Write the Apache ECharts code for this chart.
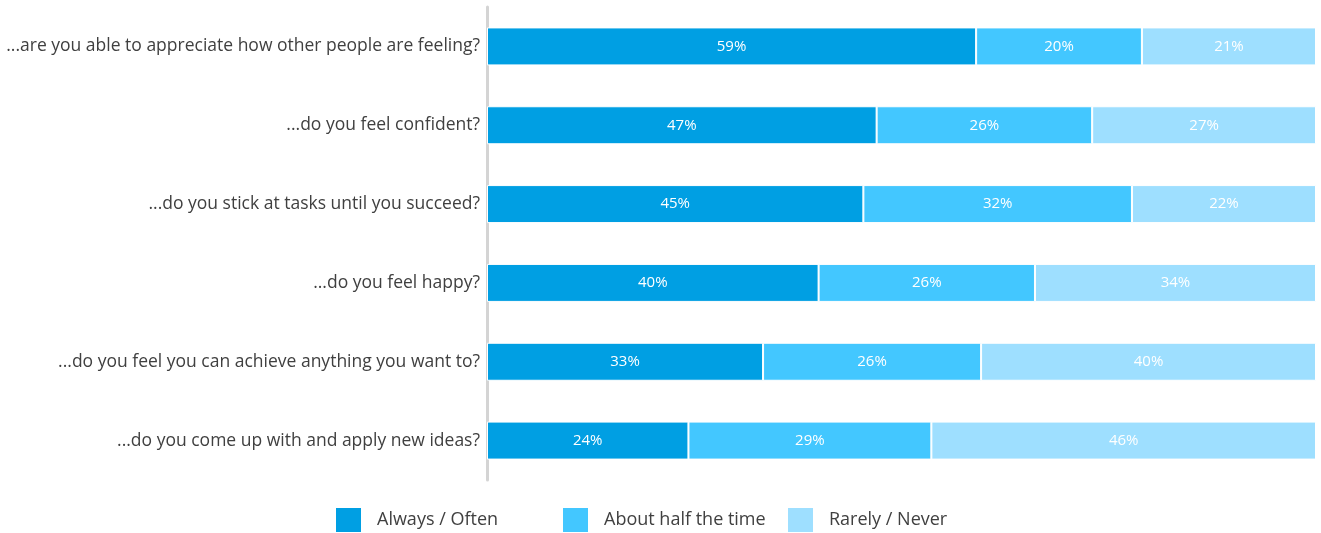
<!DOCTYPE html>
<html>
<head>
<meta charset="utf-8">
<script src="https://cdn.jsdelivr.net/npm/echarts@6/dist/echarts.min.js"></script>
<style>
  html, body { margin: 0; padding: 0; background: #fff; }
  #chart { width: 1321px; height: 533px; }
</style>
</head>
<body>
<div id="chart"></div>
<script>
// questions, top to bottom
const questions = [
  '...are you able to appreciate how other people are feeling?',
  '...do you feel confident?',
  '...do you stick at tasks until you succeed?',
  '...do you feel happy?',
  '...do you feel you can achieve anything you want to?',
  '...do you come up with and apply new ideas?'
]
const seriesNames = ['Always / Often', 'About half the time', 'Rarely / Never']
const alwaysOften = [59, 47, 45.4, 40, 33.3, 24.3]
const halfTime = [20, 26, 32.4, 26.1, 26.3, 29.3]
const rarelyNever = [21, 27, 22.2, 33.9, 40.4, 46.4]
const colors = ['#009FE3', '#43C7FF', '#9EDFFF']

const font = 'Open Sans'
const chart = echarts.init(document.getElementById('chart'))

const makeSeries = (name, data, i) => ({
  name: name,
  type: 'bar',
  stack: 'total',
  data: data,
  barWidth: 38,
  itemStyle: { color: colors[i], borderColor: '#fff', borderWidth: 1 },
  label: {
    show: true,
    position: 'inside',
    color: '#fff',
    fontFamily: font,
    fontSize: 15,
    formatter: (p) => Math.round(p.value) + '%'
  }
})

// three legends so the items sit where they are in the original
const legendLefts = [329, 556, 781]

chart.setOption({
  animation: false,
  grid: { left: 487, right: 5, top: 7, bottom: 53 },
  xAxis: {
    type: 'value',
    min: 0,
    max: 100,
    show: false
  },
  yAxis: {
    type: 'category',
    inverse: true,
    data: questions,
    axisTick: { show: false },
    axisLine: { show: true, lineStyle: { color: '#d4d4d4', width: 3 } },
    axisLabel: { color: '#404040', fontFamily: font, fontSize: 17.5, margin: 7 }
  },
  legend: seriesNames.map((name, i) => ({
    data: [name],
    left: legendLefts[i],
    top: 501,
    itemWidth: 27,
    itemHeight: 26,
    icon: 'rect',
    textStyle: { color: '#404040', fontFamily: font, fontSize: 18, padding: [0, 0, 0, 10] }
  })),
  series: [
    makeSeries(seriesNames[0], alwaysOften, 0),
    makeSeries(seriesNames[1], halfTime, 1),
    makeSeries(seriesNames[2], rarelyNever, 2)
  ]
})
</script>
</body>
</html>
